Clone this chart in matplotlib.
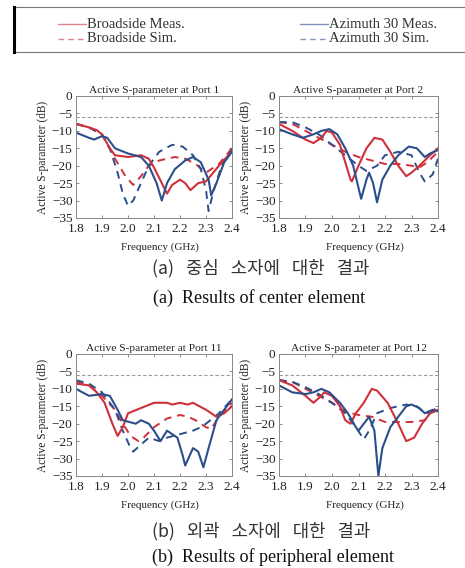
import matplotlib
matplotlib.use('Agg')
import matplotlib.pyplot as plt
from matplotlib.lines import Line2D

plt.rcParams['font.family'] = ['Liberation Serif', 'DejaVu Serif']

RED = '#d0303a'
BLUE = '#2c4f8c'

# Port 1 (center element)
p1_bm_f = [1.80, 1.85, 1.88, 1.90, 1.93, 1.95, 2.00, 2.05, 2.08, 2.10, 2.13, 2.15, 2.17, 2.20, 2.22, 2.24, 2.27, 2.30, 2.35, 2.38, 2.40]
p1_bm_s = [-8.0, -9.0, -9.8, -11.0, -15.0, -17.0, -17.5, -17.0, -18.0, -20.5, -25.0, -28.0, -25.5, -24.0, -25.0, -27.0, -25.0, -24.5, -20.0, -17.5, -15.5]
p1_am_f = [1.80, 1.85, 1.87, 1.90, 1.92, 1.95, 2.00, 2.05, 2.08, 2.11, 2.13, 2.15, 2.18, 2.22, 2.25, 2.28, 2.31, 2.32, 2.34, 2.37, 2.40]
p1_am_s = [-10.5, -12.0, -12.5, -11.5, -12.0, -15.0, -16.5, -17.5, -20.0, -25.0, -30.0, -25.0, -21.0, -18.5, -17.5, -19.0, -24.0, -28.5, -25.0, -19.0, -16.0]
p1_bs_f = [1.80, 1.85, 1.90, 1.95, 1.99, 2.02, 2.05, 2.08, 2.12, 2.18, 2.22, 2.26, 2.30, 2.35, 2.40]
p1_bs_s = [-8.0, -9.0, -11.0, -18.0, -23.0, -25.5, -23.0, -20.0, -18.5, -17.5, -18.0, -19.5, -22.0, -19.5, -15.0]
p1_as_f = [1.80, 1.85, 1.90, 1.93, 1.96, 1.98, 2.00, 2.02, 2.05, 2.08, 2.12, 2.17, 2.21, 2.25, 2.28, 2.30, 2.31, 2.33, 2.36, 2.40]
p1_as_s = [-8.0, -9.0, -11.0, -15.0, -22.0, -28.0, -31.5, -30.0, -25.0, -20.0, -16.0, -14.0, -14.5, -17.0, -21.0, -27.0, -33.0, -27.0, -20.0, -15.0]

# Port 2 (center element)
p2_bm_f = [1.80, 1.85, 1.90, 1.93, 1.96, 1.98, 2.00, 2.03, 2.05, 2.07, 2.075, 2.10, 2.13, 2.16, 2.19, 2.22, 2.25, 2.28, 2.30, 2.33, 2.37, 2.40]
p2_bm_s = [-8.0, -10.0, -12.5, -13.5, -12.0, -10.0, -10.5, -14.0, -19.0, -24.0, -24.5, -20.0, -15.0, -12.0, -12.5, -16.0, -20.0, -23.0, -22.0, -20.0, -17.0, -15.0]
p2_am_f = [1.80, 1.85, 1.89, 1.93, 1.96, 1.99, 2.02, 2.05, 2.08, 2.11, 2.13, 2.14, 2.155, 2.17, 2.19, 2.22, 2.25, 2.29, 2.32, 2.35, 2.37, 2.40]
p2_am_s = [-9.5, -11.0, -12.0, -11.0, -10.0, -9.5, -11.0, -15.0, -20.0, -29.5, -24.0, -22.0, -25.0, -30.5, -24.0, -20.0, -17.0, -14.5, -15.0, -17.5, -16.5, -15.5]
p2_bs_f = [1.80, 1.85, 1.90, 1.95, 2.00, 2.05, 2.10, 2.15, 2.20, 2.25, 2.30, 2.33, 2.36, 2.40]
p2_bs_s = [-7.5, -8.0, -10.0, -12.0, -14.0, -16.0, -17.5, -18.5, -19.5, -19.5, -20.0, -20.5, -19.0, -16.0]
p2_as_f = [1.80, 1.85, 1.90, 1.95, 2.00, 2.05, 2.10, 2.13, 2.17, 2.20, 2.25, 2.30, 2.33, 2.35, 2.38, 2.40]
p2_as_s = [-7.5, -7.5, -9.0, -11.0, -14.0, -17.0, -20.0, -21.5, -20.0, -17.0, -16.0, -17.0, -22.0, -24.5, -22.5, -18.0]

# Port 11 (peripheral element)
p11_bm_f = [1.80, 1.85, 1.88, 1.91, 1.94, 1.96, 1.98, 2.00, 2.05, 2.10, 2.15, 2.17, 2.20, 2.23, 2.25, 2.30, 2.34, 2.37, 2.40]
p11_bm_s = [-8.5, -9.0, -11.0, -14.0, -20.0, -23.5, -21.0, -17.0, -15.5, -14.0, -14.0, -14.5, -14.0, -14.5, -14.0, -16.0, -18.0, -17.0, -15.0]
p11_am_f = [1.80, 1.85, 1.90, 1.93, 1.96, 1.98, 2.03, 2.05, 2.08, 2.10, 2.125, 2.15, 2.19, 2.21, 2.22, 2.25, 2.27, 2.29, 2.31, 2.34, 2.38, 2.40]
p11_am_s = [-10.0, -12.0, -11.5, -12.0, -16.0, -19.0, -20.0, -19.0, -20.0, -22.0, -25.0, -22.0, -24.0, -29.0, -32.0, -27.0, -28.0, -32.5, -27.0, -19.0, -15.0, -13.0]
p11_bs_f = [1.80, 1.85, 1.90, 1.95, 1.98, 2.01, 2.04, 2.06, 2.10, 2.15, 2.20, 2.23, 2.26, 2.30, 2.32, 2.35, 2.40]
p11_bs_s = [-8.0, -9.0, -12.0, -16.0, -20.0, -23.5, -25.0, -24.0, -21.0, -18.5, -17.5, -18.0, -19.0, -21.0, -21.5, -18.0, -14.0]
p11_as_f = [1.80, 1.85, 1.90, 1.95, 1.98, 2.01, 2.02, 2.05, 2.08, 2.12, 2.15, 2.20, 2.25, 2.28, 2.30, 2.35, 2.40]
p11_as_s = [-7.5, -8.5, -11.0, -16.0, -22.0, -27.0, -28.0, -26.0, -24.0, -25.0, -24.0, -23.0, -22.0, -21.0, -20.0, -17.0, -13.0]

# Port 12 (peripheral element)
p12_bm_f = [1.80, 1.85, 1.90, 1.93, 1.96, 1.97, 2.00, 2.03, 2.05, 2.07, 2.09, 2.12, 2.15, 2.17, 2.21, 2.25, 2.28, 2.31, 2.34, 2.37, 2.40]
p12_bm_s = [-7.5, -9.0, -12.0, -14.0, -12.0, -11.0, -12.0, -15.0, -19.0, -20.0, -17.0, -14.0, -10.0, -10.5, -14.0, -20.0, -25.0, -24.0, -20.0, -17.0, -16.0]
p12_am_f = [1.80, 1.85, 1.90, 1.93, 1.96, 1.99, 2.03, 2.06, 2.09, 2.10, 2.12, 2.14, 2.16, 2.175, 2.19, 2.22, 2.25, 2.28, 2.30, 2.33, 2.35, 2.38, 2.40]
p12_am_s = [-9.0, -11.0, -11.5, -11.0, -10.0, -11.0, -14.0, -17.0, -21.0, -22.0, -20.0, -18.0, -22.0, -35.0, -27.0, -21.0, -18.0, -15.0, -14.5, -15.5, -17.0, -16.0, -16.5]
p12_bs_f = [1.80, 1.85, 1.90, 1.95, 2.00, 2.05, 2.10, 2.15, 2.20, 2.25, 2.30, 2.35, 2.37, 2.40]
p12_bs_s = [-7.5, -8.0, -10.0, -12.0, -14.0, -16.5, -17.5, -18.0, -19.5, -19.5, -19.5, -19.0, -17.0, -15.0]
p12_as_f = [1.80, 1.85, 1.90, 1.95, 2.00, 2.05, 2.09, 2.12, 2.14, 2.17, 2.22, 2.28, 2.32, 2.35, 2.40]
p12_as_s = [-7.5, -8.0, -9.5, -11.5, -14.0, -17.0, -21.0, -24.5, -22.0, -17.0, -15.5, -14.5, -15.0, -17.0, -16.5]

ports = ['1', '2', '11', '12']
panels = [
    (p1_bm_f, p1_bm_s, p1_am_f, p1_am_s, p1_bs_f, p1_bs_s, p1_as_f, p1_as_s),
    (p2_bm_f, p2_bm_s, p2_am_f, p2_am_s, p2_bs_f, p2_bs_s, p2_as_f, p2_as_s),
    (p11_bm_f, p11_bm_s, p11_am_f, p11_am_s, p11_bs_f, p11_bs_s, p11_as_f, p11_as_s),
    (p12_bm_f, p12_bm_s, p12_am_f, p12_am_s, p12_bs_f, p12_bs_s, p12_as_f, p12_as_s),
]
xticks = [1.8, 1.9, 2.0, 2.1, 2.2, 2.3, 2.4]
yticks = [0, -5, -10, -15, -20, -25, -30, -35]
ref_level = -6

W, H = 465, 568
fig = plt.figure(figsize=(W / 100, H / 100), dpi=100)

def px_axes(left, top, right, bottom):
    return fig.add_axes([left / W, 1 - bottom / H, (right - left) / W, (bottom - top) / H])

boxes = [(76, 96, 232, 218), (279, 96, 438, 218), (76, 354, 232, 476), (279, 354, 438, 476)]

for box, port, d in zip(boxes, ports, panels):
    ax = px_axes(*box)
    bm_f, bm_s, am_f, am_s, bs_f, bs_s, as_f, as_s = d
    ax.axhline(ref_level, color='#a09a9c', lw=0.8, ls=(0, (3, 2)))
    ax.plot(bs_f, bs_s, color=RED, lw=1.4, ls=(0, (4, 3)))
    ax.plot(as_f, as_s, color=BLUE, lw=1.4, ls=(0, (4, 3)))
    ax.plot(bm_f, bm_s, color=RED, lw=1.5)
    ax.plot(am_f, am_s, color=BLUE, lw=1.5)
    ax.set_xlim(1.8, 2.4)
    ax.set_ylim(-35, 0)
    ax.set_xticks(xticks)
    ax.set_xticklabels([f'{x:.1f}' for x in xticks])
    ax.set_yticks(yticks)
    ax.set_yticklabels([str(y).replace('-', '\u2212') for y in yticks])
    ax.tick_params(direction='in', length=2.5, width=0.6, labelsize=9.5, top=True, right=True,
                   colors='#777777', labelcolor='#222222')
    ax.tick_params(axis='x', pad=3.5)
    ax.tick_params(axis='y', pad=2.5)
    for s in ax.spines.values():
        s.set_color('#888888')
        s.set_linewidth(0.7)
    ax.set_title(f'Active S-parameter at Port {port}', fontsize=8.2, pad=2, color='#222222')
    ax.set_xlabel('Frequency (GHz)', fontsize=8, color='#222222')
    ax.xaxis.set_label_coords(0.54, -0.2)
    ax.set_ylabel('Active S-parameter (dB)', fontsize=8.3, color='#222222')
    ax.yaxis.set_label_coords(-27 / (box[2] - box[0]), 0.5)

# legend frame across the top
fig.add_artist(Line2D([14 / W, 1.0], [1 - 7 / H, 1 - 7 / H], color='#777777', lw=0.8))
fig.add_artist(Line2D([14 / W, 1.0], [1 - 52 / H, 1 - 52 / H], color='#777777', lw=0.8))
fig.add_artist(Line2D([14 / W, 14 / W], [1 - 7 / H, 1 - 52 / H], color='black', lw=2.2))

legend_items = [
    (58, 24, RED, '-', 'Broadside Meas.'),
    (58, 39, RED, '--', 'Broadside Sim.'),
    (300, 24, BLUE, '-', 'Azimuth 30 Meas.'),
    (300, 39, BLUE, '--', 'Azimuth 30 Sim.'),
]
for x0, y0, col, ls, label in legend_items:
    fig.add_artist(Line2D([x0 / W, (x0 + 28) / W], [1 - y0 / H, 1 - y0 / H],
                          color=col, lw=1.0, alpha=0.6, ls=ls if ls == '-' else (0, (4, 3))))
    fig.text((x0 + 29) / W, 1 - y0 / H, label, fontsize=10.5, color='#333333',
             ha='left', va='center')

# captions
ko_font = ['Noto Sans CJK KR', 'DejaVu Sans']
fig.text(152 / W, 1 - 268 / H, '(a)   중심   소자에   대한   결과', family=ko_font,
         fontsize=12.8, color='#333333', ha='left', va='center')
fig.text(153 / W, 1 - 298 / H, '(a)  Results of center element', fontsize=13,
         color='#111111', ha='left', va='center')
fig.text(152 / W, 1 - 531 / H, '(b)   외곽   소자에   대한   결과', family=ko_font,
         fontsize=12.8, color='#333333', ha='left', va='center')
fig.text(152 / W, 1 - 557 / H, '(b)  Results of peripheral element', fontsize=13,
         color='#111111', ha='left', va='center')

fig.savefig('out.png', dpi=100)
